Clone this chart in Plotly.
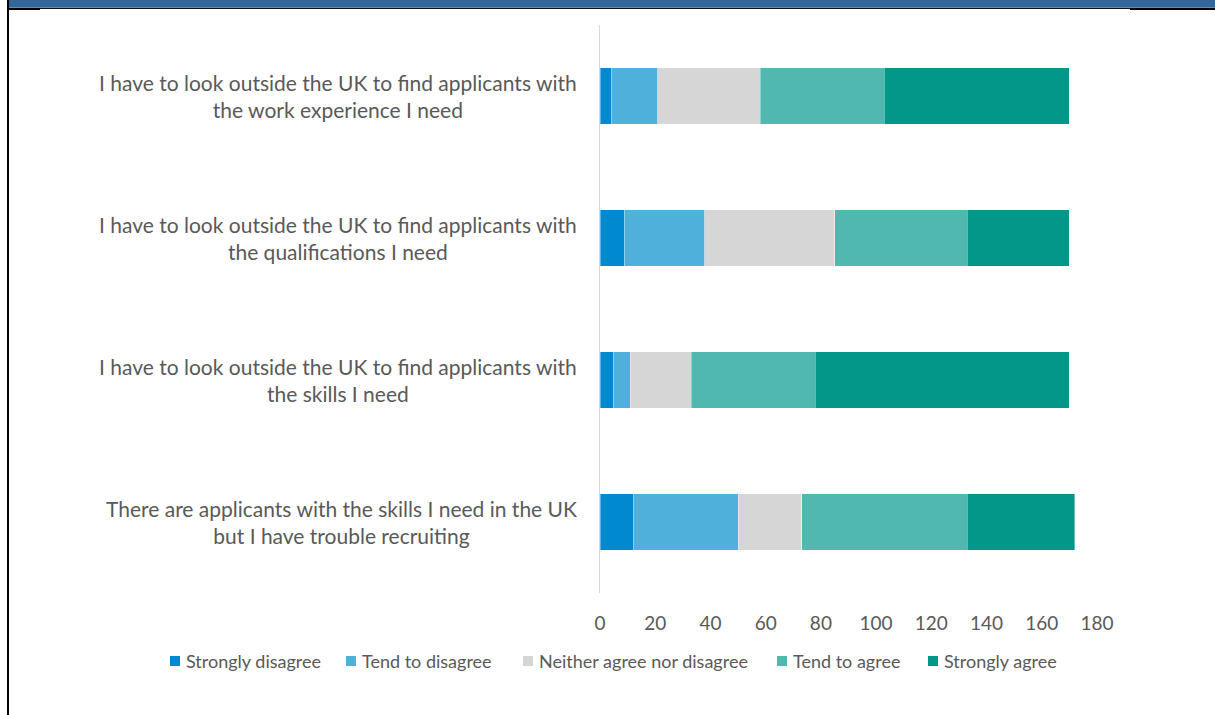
import plotly.graph_objects as go

# Survey statements (top to bottom) and response counts per answer
statements = [
    "I have to look outside the UK to find applicants with<br>the work experience I need",
    "I have to look outside the UK to find applicants with<br>the qualifications I need",
    "I have to look outside the UK to find applicants with<br>the skills I need",
    "There are applicants with the skills I need in the UK<br>but I have trouble recruiting",
]
keys = ["work", "quals", "skills", "trouble"]

responses = ["Strongly disagree", "Tend to disagree", "Neither agree nor disagree",
             "Tend to agree", "Strongly agree"]
strongly_disagree = [4, 9, 5, 12]
tend_to_disagree = [17, 29, 6, 38]
neither = [37, 47, 22, 23]
tend_to_agree = [45, 48, 45, 60]
strongly_agree = [67, 37, 92, 39]
series = [strongly_disagree, tend_to_disagree, neither, tend_to_agree, strongly_agree]
colors = ["#0089CF", "#4FB0DB", "#D6D6D6", "#51B8B0", "#03978A"]

x_ticks = [0, 20, 40, 60, 80, 100, 120, 140, 160, 180]

FONT = "Lato"
TXT = "#595959"

W, H = 1215, 715
L, R, T, B = 600, 118, 25, 122
pw, ph = W - L - R, H - T - B


def px_x(p):
    return (p - L) / pw


def px_y(p):
    return (H - B - p) / ph


fig = go.Figure()
for name, vals, col in zip(responses, series, colors):
    fig.add_trace(go.Bar(
        y=keys, x=vals, name=name, orientation="h",
        marker=dict(color=col, line=dict(width=0.6, color="rgba(255,255,255,0.6)")),
        hoverinfo="x+name", showlegend=False,
    ))

# statement labels, centred line by line and right-aligned to the axis
annotations = []
for k, s in zip(keys, statements):
    annotations.append(dict(
        x=0, xref="paper", xanchor="right", xshift=-21,
        y=k, yref="y", yanchor="middle",
        text=s, showarrow=False, align="center",
        font=dict(family=FONT, size=21, color=TXT),
    ))

# document frame: blue header band, rule beneath it, left border
shapes = [
    dict(type="rect", xref="paper", yref="paper",
         x0=px_x(9), x1=px_x(W), y0=px_y(7.7), y1=px_y(0),
         fillcolor="#336699", line=dict(width=0), layer="above"),
    dict(type="line", xref="paper", yref="paper",
         x0=px_x(8), x1=px_x(W), y0=px_y(8.5), y1=px_y(8.5),
         line=dict(color="#111111", width=1)),
    dict(type="line", xref="paper", yref="paper",
         x0=px_x(8), x1=px_x(40), y0=px_y(9), y1=px_y(9),
         line=dict(color="#000000", width=2)),
    dict(type="line", xref="paper", yref="paper",
         x0=px_x(1130), x1=px_x(W), y0=px_y(9), y1=px_y(9),
         line=dict(color="#000000", width=2)),
    dict(type="line", xref="paper", yref="paper",
         x0=px_x(8), x1=px_x(8), y0=px_y(0), y1=px_y(H),
         line=dict(color="#000000", width=2)),
]

# legend row: small colour squares followed by their labels
legend_marker_px = [170, 346, 523, 777, 928]
legend_y = 661
for name, col, mx in zip(responses, colors, legend_marker_px):
    shapes.append(dict(
        type="rect", xref="paper", yref="paper",
        x0=px_x(mx), x1=px_x(mx + 10), y0=px_y(legend_y + 5), y1=px_y(legend_y - 5),
        fillcolor=col, line=dict(width=0),
    ))
    annotations.append(dict(
        x=px_x(mx + 14), xref="paper", xanchor="left",
        y=px_y(legend_y), yref="paper", yanchor="middle",
        text=name, showarrow=False,
        font=dict(family=FONT, size=18, color=TXT),
    ))

fig.update_layout(
    width=W, height=H,
    margin=dict(l=L, r=R, t=T, b=B),
    paper_bgcolor="white", plot_bgcolor="white",
    barmode="stack", bargap=0.6,
    font=dict(family=FONT, color=TXT),
    showlegend=False,
    xaxis=dict(range=[0, 180], tickvals=x_ticks, showgrid=False, zeroline=False,
               showline=False, ticks="", tickfont=dict(family=FONT, size=19, color=TXT),
               ticklabelstandoff=17),
    yaxis=dict(categoryorder="array", categoryarray=keys, autorange="reversed",
               showticklabels=False, showgrid=False, zeroline=False,
               showline=True, linecolor="#D9D9D9", linewidth=1, ticks=""),
    annotations=annotations,
    shapes=shapes,
)

fig.write_html("out.html")
